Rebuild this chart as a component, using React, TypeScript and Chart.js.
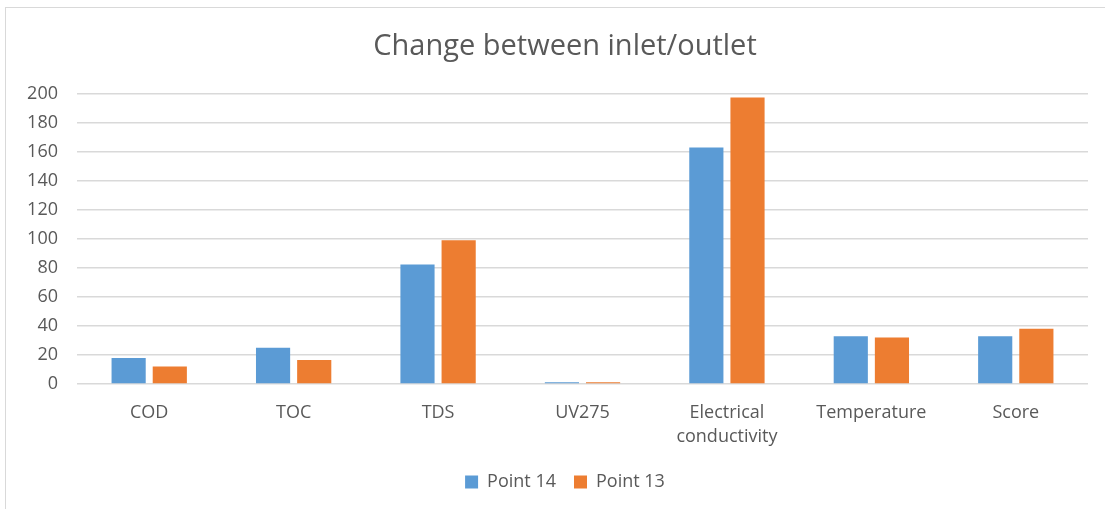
import React, { useEffect, useRef } from "react";
import { Chart, registerables } from "chart.js";

Chart.register(...registerables);

const categories: (string | string[])[] = [
  "COD",
  "TOC",
  "TDS",
  "UV275",
  ["Electrical", "conductivity"],
  "Temperature",
  "Score",
];
const point14 = [18, 25, 82.3, 1.2, 163, 33, 33];
const point13 = [12, 16.5, 99, 1.2, 197.5, 32, 38];
const yTicks = { min: 0, max: 200, step: 20 };

const FONT = "'Open Sans', 'Noto Sans', sans-serif";
const TEXT = "#595959";

const shiftPlugin = {
  id: "shiftBlocks",
  afterLayout(chart: any) {
    const shift = 21;
    if (chart.titleBlock) {
      chart.titleBlock.left += shift;
      chart.titleBlock.right += shift;
    }
    if (chart.legend) {
      chart.legend.left += shift;
      chart.legend.right += shift;
      chart.legend.top -= 8;
      chart.legend.bottom -= 8;
    }
  },
};

export default function App() {
  const ref = useRef<HTMLCanvasElement>(null);

  useEffect(() => {
    if (!ref.current) return;
    const chart = new Chart(ref.current, {
      type: "bar",
      data: {
        labels: categories,
        datasets: [
          {
            label: "Point 14",
            data: point14,
            backgroundColor: "#5B9BD5",
            categoryPercentage: 0.57,
            barPercentage: 0.83,
          },
          {
            label: "Point 13",
            data: point13,
            backgroundColor: "#ED7D31",
            categoryPercentage: 0.57,
            barPercentage: 0.83,
          },
        ],
      },
      plugins: [shiftPlugin],
      options: {
        responsive: false,
        animation: false,
        layout: { padding: { left: 0, right: 17, top: 0, bottom: 0 } },
        plugins: {
          title: {
            display: true,
            text: "Change between inlet/outlet",
            color: TEXT,
            font: { family: FONT, size: 29, weight: "normal", lineHeight: 1.2 },
            padding: { top: 29, bottom: 30 },
          },
          legend: {
            position: "bottom",
            labels: {
              color: TEXT,
              font: { family: FONT, size: 18 },
              boxWidth: 13,
              boxHeight: 13,
              padding: 18,
            },
          },
          tooltip: { enabled: false },
        },
        scales: {
          x: {
            afterFit: (s: any) => {
              s.height = s.height - 3;
            },
            grid: { display: false, drawTicks: false },
            border: { display: false },
            ticks: {
              color: TEXT,
              font: { family: FONT, size: 18, lineHeight: 1.333 },
              padding: 17,
              maxRotation: 0,
              autoSkip: false,
            },
          },
          y: {
            min: yTicks.min,
            max: yTicks.max,
            afterFit: (s: any) => {
              s.width = 77;
            },
            grid: { color: "#d9d9d9", lineWidth: 1.5, drawTicks: false },
            border: { display: false },
            ticks: {
              stepSize: yTicks.step,
              color: TEXT,
              font: { family: FONT, size: 18 },
              padding: 19,
            },
          },
        },
      },
    });
    return () => chart.destroy();
  }, []);

  return (
    <div
      style={{
        position: "absolute",
        left: 0,
        top: 0,
        width: 1105,
        height: 509,
        background: "#fff",
        overflow: "hidden",
      }}
    >
      <div
        style={{
          position: "absolute",
          left: 5,
          top: 7,
          width: 1200,
          height: 600,
          borderLeft: "1.5px solid #d9d9d9",
          borderTop: "1.5px solid #d9d9d9",
        }}
      />
      <canvas
        ref={ref}
        width={1105}
        height={509}
        style={{ position: "absolute", left: 0, top: 0 }}
      />
    </div>
  );
}
